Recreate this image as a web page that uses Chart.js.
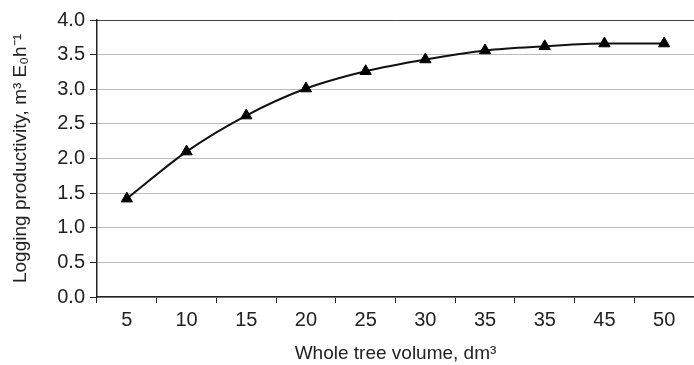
<!DOCTYPE html>
<html>
<head>
<meta charset="utf-8">
<script src="https://cdn.jsdelivr.net/npm/chart.js@4/dist/chart.umd.min.js"></script>
<style>
  html, body { margin: 0; padding: 0; background: #fff; }
  #wrap { width: 694px; height: 365px; position: relative; }
</style>
</head>
<body>
<div id="wrap"><canvas id="c"></canvas></div>
<script>
// Tree volume classes (dm³) as printed on the axis
const volumeLabels = ['5', '10', '15', '20', '25', '30', '35', '35', '45', '50'];
// Logging productivity per volume class
const productivity = [1.42, 2.10, 2.62, 3.01, 3.26, 3.43, 3.56, 3.62, 3.66, 3.66];
// Y axis ticks
const yTicks = [0, 0.5, 1.0, 1.5, 2.0, 2.5, 3.0, 3.5, 4.0];

const FONT = 'Liberation Sans, Arial, sans-serif';
const INK = '#222';

// Darker frame line along the top of the plot area
const topLine = {
  id: 'topLine',
  afterDraw(chart) {
    const { ctx, chartArea: a } = chart;
    ctx.save();
    ctx.strokeStyle = '#444';
    ctx.lineWidth = 1;
    ctx.beginPath();
    ctx.moveTo(a.left, a.top + 0.5);
    ctx.lineTo(a.right, a.top + 0.5);
    ctx.stroke();
    ctx.restore();
  }
};

new Chart(document.getElementById('c'), {
  type: 'line',
  data: {
    labels: volumeLabels,
    datasets: [{
      data: productivity,
      borderColor: '#111',
      backgroundColor: '#000',
      borderWidth: 2,
      tension: 0.4,
      cubicInterpolationMode: 'monotone',
      pointStyle: 'triangle',
      pointRadius: 6.5,
      pointBorderWidth: 1,
      pointBorderColor: '#000',
      pointBackgroundColor: '#000',
      fill: false
    }]
  },
  options: {
    responsive: true,
    maintainAspectRatio: false,
    animation: false,
    layout: { autoPadding: false, padding: { top: 20, right: -3, left: 0, bottom: 0 } },
    plugins: { legend: { display: false }, tooltip: { enabled: false } },
    scales: {
      x: {
        type: 'category',
        offset: true,
        grid: { display: true, drawOnChartArea: false, drawTicks: true, tickLength: 6, offset: true, color: '#222' },
        border: { display: true, color: '#222', width: 1.5 },
        ticks: { color: INK, font: { family: FONT, size: 20 }, padding: 5, maxRotation: 0, autoSkip: false },
        title: { display: true, text: 'Whole tree volume, dm³', color: INK, font: { family: FONT, size: 19 }, padding: { top: 5, bottom: 0 } },
        afterFit(s) { s.height = 68; }
      },
      y: {
        min: 0,
        max: 4,
        afterBuildTicks(s) { s.ticks = yTicks.map(v => ({ value: v })); },
        grid: { color: '#bbb', lineWidth: 1, drawTicks: true, tickLength: 7, tickColor: '#222' },
        border: { display: true, color: '#222', width: 1.5 },
        ticks: { color: INK, font: { family: FONT, size: 20 }, padding: 5, callback: v => v.toFixed(1) },
        title: { display: true, text: 'Logging productivity, m³ E₀h⁻¹', color: INK, font: { family: FONT, size: 19 }, padding: { top: 9, bottom: 0 } },
        afterFit(s) { s.width = 97; }
      }
    }
  },
  plugins: [topLine]
});
</script>
</body>
</html>
